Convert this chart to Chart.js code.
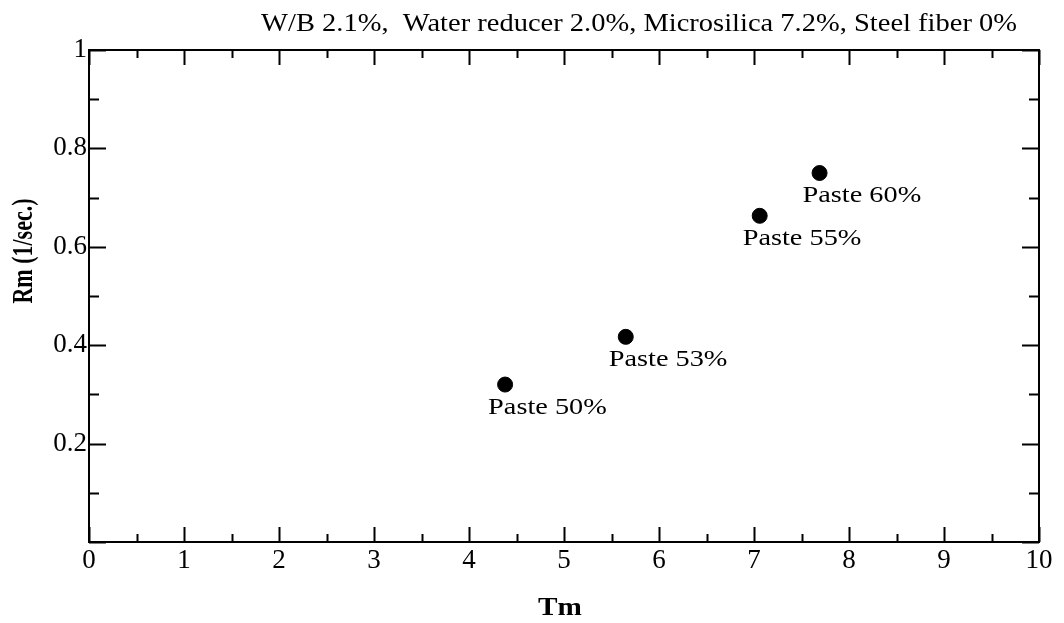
<!DOCTYPE html>
<html>
<head>
<meta charset="utf-8">
<script src="https://cdn.jsdelivr.net/npm/chart.js@4/dist/chart.umd.min.js"></script>
<style>
  html, body { margin: 0; padding: 0; background: #fff; }
  #grafico { display: block; }
</style>
</head>
<body>
<canvas id="grafico" width="1064" height="623" style="width:1064px;height:623px"></canvas>
<script>
// datos
const tmValues = [4.38, 5.65, 7.06, 7.69]
const rmValues = [0.32, 0.417, 0.663, 0.75]
const pointLabels = ['Paste 50%', 'Paste 53%', 'Paste 55%', 'Paste 60%']
const xTicks = [0, 1, 2, 3, 4, 5, 6, 7, 8, 9, 10]
const yTicks = [0, 0.2, 0.4, 0.6, 0.8, 1]
const titleText = 'W/B 2.1%,  Water reducer 2.0%, Microsilica 7.2%, Steel fiber 0%'
const xTitle = 'Tm'
const yTitle = 'Rm (1/sec.)'

const serif = "'Liberation Serif', 'Times New Roman', serif"

// texto estirado en horizontal como en la figura original
function textoAncho(ctx, texto, x, y, sx, font, align) {
    ctx.save()
    ctx.fillStyle = '#000'
    ctx.font = font
    ctx.textAlign = align
    ctx.textBaseline = 'alphabetic'
    ctx.translate(x, y)
    ctx.scale(sx, 1)
    ctx.fillText(texto, 0, 0)
    ctx.restore()
}

// marco con ticks hacia adentro en los cuatro lados
const marcoPlugin = {
    id: 'marco',
    afterDraw(chart) {
        const { ctx, chartArea: a, scales: { x, y } } = chart
        ctx.save()
        ctx.strokeStyle = '#000'
        ctx.lineWidth = 2
        ctx.strokeRect(a.left, a.top, a.right - a.left, a.bottom - a.top)

        ctx.beginPath()
        for (let i = 0; i <= 20; i++) {
            const v = i / 2
            const px = Math.round(x.getPixelForValue(v)) + 0.5
            const len = i % 2 === 0 ? 15 : 8
            ctx.moveTo(px, a.bottom); ctx.lineTo(px, a.bottom - len)
            ctx.moveTo(px, a.top); ctx.lineTo(px, a.top + len)
        }
        for (let i = 0; i <= 10; i++) {
            const v = i / 10
            const py = Math.round(y.getPixelForValue(v)) + 0.5
            const len = i % 2 === 0 ? 17 : 10
            ctx.moveTo(a.left, py); ctx.lineTo(a.left + len, py)
            ctx.moveTo(a.right, py); ctx.lineTo(a.right - len, py)
        }
        ctx.stroke()
        ctx.restore()

        // titulo superior
        textoAncho(ctx, titleText, 1017, 31, 1.14, `25px ${serif}`, 'right')
        // titulo eje x
        textoAncho(ctx, xTitle, (a.left + a.right) / 2 - 4, 615, 1.17, `bold 25px ${serif}`, 'center')

        // titulo eje y
        ctx.save()
        ctx.fillStyle = '#000'
        ctx.font = `bold 22px ${serif}`
        ctx.translate(32, 251)
        ctx.scale(1.3, 1)
        ctx.rotate(-Math.PI / 2)
        ctx.textAlign = 'center'
        ctx.textBaseline = 'alphabetic'
        ctx.fillText(yTitle, 0, 0)
        ctx.restore()
    },
    afterDatasetsDraw(chart) {
        const meta = chart.getDatasetMeta(0)
        meta.data.forEach((pt, i) => {
            textoAncho(chart.ctx, pointLabels[i], pt.x - 17, pt.y + 29, 1.23, `23px ${serif}`, 'left')
        })
    }
}

const config = {
    type: 'scatter',
    data: {
        datasets: [
            {
                label: 'Rm',
                data: tmValues.map((t, i) => ({ x: t, y: rmValues[i] })),
                backgroundColor: '#000',
                borderColor: '#000',
                pointRadius: 7.5,
                pointHoverRadius: 7.5
            }
        ]
    },
    options: {
        responsive: false,
        animation: false,
        devicePixelRatio: 1,
        layout: { padding: { top: 50, right: 25, left: 0, bottom: 0 } },
        plugins: {
            legend: { display: false },
            tooltip: { enabled: false }
        },
        scales: {
            x: {
                type: 'linear',
                min: 0,
                max: 10,
                afterBuildTicks: scale => { scale.ticks = xTicks.map(v => ({ value: v })) },
                afterFit: scale => { scale.height = 81 },
                grid: { display: false, drawTicks: false },
                border: { display: false },
                ticks: {
                    padding: 3,
                    color: '#000',
                    maxRotation: 0,
                    font: { family: serif, size: 27 },
                    callback: v => String(v)
                }
            },
            y: {
                type: 'linear',
                min: 0,
                max: 1,
                afterBuildTicks: scale => { scale.ticks = yTicks.map(v => ({ value: v })) },
                afterFit: scale => { scale.width = 89 },
                grid: { display: false, drawTicks: false },
                border: { display: false },
                ticks: {
                    padding: 2,
                    color: '#000',
                    font: { family: serif, size: 27 },
                    callback: v => v === 0 ? '' : String(+v.toFixed(1))
                }
            }
        }
    },
    plugins: [marcoPlugin]
}

const chartInstance = new Chart(document.getElementById('grafico'), config)
</script>
</body>
</html>
